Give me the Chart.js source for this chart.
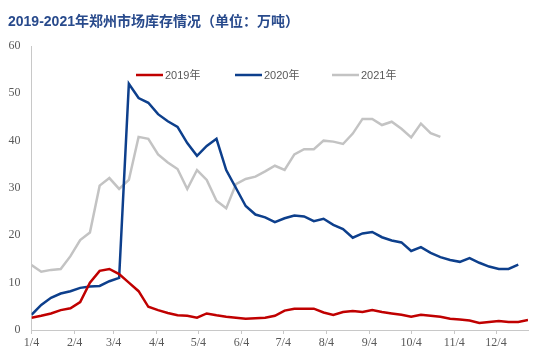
<!DOCTYPE html>
<html>
<head>
<meta charset="utf-8">
<script src="https://cdn.jsdelivr.net/npm/chart.js@4"></script>
<style>
  html, body { margin: 0; padding: 0; background: #fff; }
  #wrap { width: 549px; height: 353px; }
</style>
</head>
<body>
<div id="wrap"><canvas id="stock"></canvas></div>
<script>
// weekly stock, 10k tonnes
var seriesNames = ['2019年', '2020年', '2021年'];
var red2019 = [2.6, 3.0, 3.5, 4.2, 4.6, 5.9, 10.0, 12.5, 12.9, 11.8, 10.0, 8.2, 4.9, 4.2, 3.6, 3.1, 3.0, 2.6, 3.5, 3.1,
  2.8, 2.6, 2.4, 2.5, 2.6, 3.0, 4.1, 4.5, 4.5, 4.5, 3.7, 3.2, 3.8, 4.0, 3.8, 4.2, 3.8, 3.5, 3.2, 2.8,
  3.2, 3.0, 2.8, 2.4, 2.2, 2.0, 1.5, 1.7, 1.9, 1.7, 1.7, 2.1];
var blue2020 = [3.2, 5.3, 6.8, 7.7, 8.2, 8.9, 9.2, 9.3, 10.3, 11.0, 52.0, 49.0, 48.0, 45.6, 44.1, 42.9, 39.5, 36.8, 38.9, 40.4,
  33.8, 30.0, 26.2, 24.4, 23.8, 22.8, 23.6, 24.2, 24.0, 23.0, 23.5, 22.2, 21.3, 19.5, 20.4, 20.7, 19.6, 18.9, 18.5, 16.7,
  17.5, 16.3, 15.4, 14.8, 14.4, 15.2, 14.2, 13.4, 12.9, 12.9, 13.8];
var grey2021 = [13.7, 12.3, 12.7, 12.9, 15.6, 19.0, 20.6, 30.5, 32.1, 29.8, 31.7, 40.8, 40.4, 37.1, 35.4, 34.0, 29.8, 33.8, 31.7, 27.3,
  25.7, 30.8, 31.9, 32.4, 33.5, 34.7, 33.8, 37.1, 38.2, 38.2, 40.0, 39.8, 39.3, 41.5, 44.6, 44.6, 43.3, 44.0, 42.5, 40.7,
  43.6, 41.6, 40.8];
// x ticks: day offsets from 1/4
var tickLabels = ['1/4', '2/4', '3/4', '4/4', '5/4', '6/4', '7/4', '8/4', '9/4', '10/4', '11/4', '12/4'];
var tickDays = [0, 31, 59, 90, 120, 151, 181, 212, 243, 273, 304, 334];
var colors = ['#c00000', '#0d3f8c', '#c3c3c3'];

function toPoints(arr) {
  return arr.map(function (v, i) { return { x: i * 7, y: v }; });
}

var titlePlugin = {
  id: 'titleAndLegend',
  afterDraw: function (chart) {
    var ctx = chart.ctx;
    ctx.save();
    ctx.fillStyle = '#284a8c';
    ctx.font = 'bold 14px "Liberation Sans", "Noto Sans CJK SC"';
    ctx.textBaseline = 'middle';
    ctx.textAlign = 'left';
    ctx.fillText('2019-2021年郑州市场库存情况（单位：万吨）', 8, 22);

    var lx = [136, 235, 332];
    ctx.font = '11px "Liberation Sans", "Noto Sans CJK SC"';
    for (var i = 0; i < seriesNames.length; i++) {
      ctx.strokeStyle = colors[i];
      ctx.lineWidth = 2.5;
      ctx.beginPath();
      ctx.moveTo(lx[i], 75);
      ctx.lineTo(lx[i] + 27, 75);
      ctx.stroke();
      ctx.fillStyle = '#595959';
      ctx.fillText(seriesNames[i], lx[i] + 29, 75.5);
    }
    ctx.restore();
  }
};

var ctx = document.getElementById('stock').getContext('2d');
var stockChart = new Chart(ctx, {
  type: 'line',
  data: {
    datasets: [
      { label: seriesNames[0], data: toPoints(red2019), borderColor: colors[0], backgroundColor: colors[0] },
      { label: seriesNames[1], data: toPoints(blue2020), borderColor: colors[1], backgroundColor: colors[1] },
      { label: seriesNames[2], data: toPoints(grey2021), borderColor: colors[2], backgroundColor: colors[2] }
    ]
  },
  options: {
    responsive: true,
    maintainAspectRatio: false,
    animation: false,
    layout: { padding: { left: 0, right: 21, top: 46, bottom: 0 } },
    elements: {
      line: { borderWidth: 2.5, tension: 0 },
      point: { radius: 0 }
    },
    plugins: {
      legend: { display: false },
      title: { display: false },
      tooltip: { enabled: false }
    },
    scales: {
      x: {
        type: 'linear',
        min: 0,
        max: 357,
        afterBuildTicks: function (axis) {
          axis.ticks = tickDays.map(function (d) { return { value: d }; });
        },
        afterFit: function (axis) { axis.height = 23; },
        grid: { drawOnChartArea: false, drawTicks: true, tickLength: 4, color: '#c8c8c8' },
        border: { color: '#c8c8c8', width: 1 },
        ticks: {
          autoSkip: false,
          maxRotation: 0,
          padding: 2,
          color: '#595959',
          font: { family: '"Liberation Serif"', size: 12 },
          callback: function (value) {
            var k = tickDays.indexOf(value);
            return k >= 0 ? tickLabels[k] : '';
          }
        }
      },
      y: {
        min: 0,
        max: 60,
        afterFit: function (axis) { axis.width = 31.5; },
        grid: { display: true, drawOnChartArea: false, drawTicks: false },
        border: { color: '#c8c8c8', width: 1 },
        ticks: {
          stepSize: 10,
          padding: 11,
          color: '#595959',
          font: { family: '"Liberation Serif"', size: 12 }
        }
      }
    }
  },
  plugins: [titlePlugin]
});
</script>
</body>
</html>
